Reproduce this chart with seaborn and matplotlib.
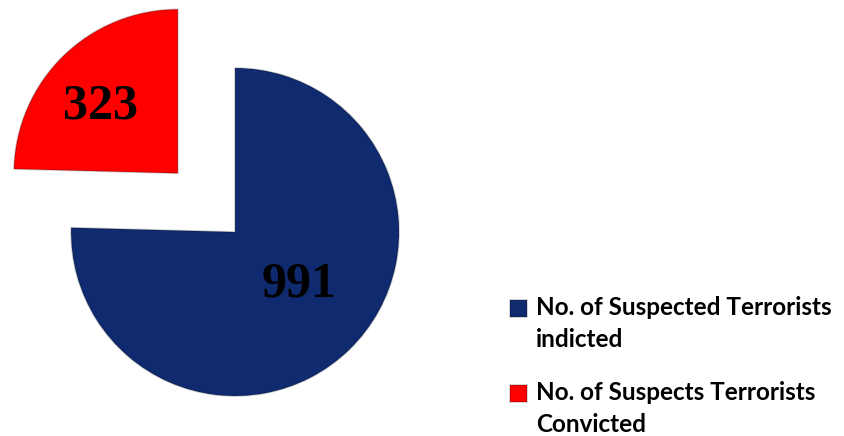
"""
Pie chart: suspected terrorists indicted vs. convicted.
"""
import matplotlib
matplotlib.use("Agg")
import matplotlib.pyplot as plt
import seaborn as sns

# ── data ─────────────────────────────────────────────────────────────────────
categories = ["No. of Suspects Terrorists\nConvicted",
              "No. of Suspected Terrorists\nindicted"]
counts     = [323, 991]
colors     = ["#FF0000", "#0F2A6E"]
explode    = [0.5, 0.0]

sns.set_theme(style="white")
plt.rcParams["font.family"] = ["Lato", "DejaVu Sans"]

fig = plt.figure(figsize=(8.44, 4.36), dpi=100)
ax = fig.add_axes([0, 0, 1, 1])

# blue wedge starts at 12 o'clock going clockwise, red sits upper-left
wedges, _ = ax.pie(
    counts, colors=colors, explode=explode,
    startangle=90 + 360 * counts[0] / sum(counts),
    counterclock=False, radius=1.0,
    wedgeprops=dict(linewidth=1.2, edgecolor="#00000033"),
)
ax.set_xlim(-1.433, 3.713)
ax.set_ylim(-1.244, 1.415)
ax.axis("off")

# value labels
num_style = dict(ha="center", va="baseline", family=["Liberation Serif"],
                 fontweight="bold", fontsize=36, color="black")
ax.text(-0.823, 0.69, f"{counts[0]}", **num_style)
ax.text(0.390, -0.396, f"{counts[1]}", **num_style)

# legend (indicted first)
leg = ax.legend([wedges[1], wedges[0]], [categories[1], categories[0]],
                loc="upper left", bbox_to_anchor=(0.6046, 0.321),
                frameon=False, fontsize=17.5, handlelength=0.69, handleheight=0.69,
                handletextpad=0.38, labelspacing=1.25, borderpad=0,
                borderaxespad=0)
for t in leg.get_texts():
    t.set_fontweight("bold")
    t.set_color("black")
    t.set_linespacing(1.45)
# put the square next to the first line instead of between both lines
for h in leg.legend_handles:
    h.set_y(h.get_y() + 11.5)

fig.savefig("out.png", dpi=100)
